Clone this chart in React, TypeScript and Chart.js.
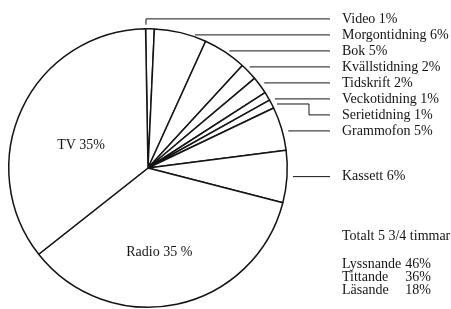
import React, { useEffect, useRef } from "react";
import { Chart, registerables } from "chart.js";

Chart.register(...registerables);

// ---- data ----
const categories = [
  "Video",
  "Morgontidning",
  "Bok",
  "Kvällstidning",
  "Tidskrift",
  "Veckotidning",
  "Serietidning",
  "Grammofon",
  "Kassett",
  "Radio",
  "TV",
];
const shares = [1, 6, 5, 2, 2, 1, 1, 5, 6, 35, 35];
const shareTexts = ["1%", "6%", "5%", "2%", "2%", "1%", "1%", "5%", "6%", "35 %", "35%"];
const insideCategories = ["Radio", "TV"];
const totalText = "Totalt 5 3/4 timmar";
const summaryCategories = ["Lyssnande", "Tittande", "Läsande"];
const summaryValues = [46, 36, 18];

const FONT = '14px "Liberation Serif", "Times New Roman", serif';
const INK = "#141414";

const labelPlugin = {
  id: "pieLabels",
  afterDatasetsDraw(chart: any) {
    const ctx = chart.ctx as CanvasRenderingContext2D;
    const meta = chart.getDatasetMeta(0);
    const arcs = meta.data as any[];
    ctx.save();
    ctx.font = FONT;
    ctx.fillStyle = INK;
    ctx.strokeStyle = INK;
    ctx.lineWidth = 1;
    ctx.textBaseline = "middle";

    const lineEnd = 330;
    const textX = 342;
    const gap = 16;
    const outside: any[] = [];

    arcs.forEach((arc: any, i: number) => {
      const p = arc.getProps(["x", "y", "startAngle", "endAngle", "outerRadius"], true);
      const mid = (p.startAngle + p.endAngle) / 2;
      const text = `${categories[i]} ${shareTexts[i]}`;
      if (insideCategories.includes(categories[i])) {
        const isTV = categories[i] === "TV";
        const f = isTV ? 0.5 : 0.6;
        const nx = isTV ? -4 : -6;
        const ny = isTV ? 7 : 3;
        ctx.textAlign = "center";
        ctx.fillText(
          text,
          p.x + Math.cos(mid) * p.outerRadius * f + nx,
          p.y + Math.sin(mid) * p.outerRadius * f + ny
        );
        return;
      }
      outside.push({
        i,
        text,
        cx: p.x,
        cy: p.y,
        r: p.outerRadius,
        mid,
        start: p.startAngle,
        end: p.endAngle,
        desired: p.y + Math.sin(mid) * p.outerRadius,
      });
    });

    // spread labels vertically
    outside.sort((a, b) => a.desired - b.desired);
    let groups = outside.map((o) => ({ items: [o], top: o.desired }));
    let merged = true;
    while (merged) {
      merged = false;
      for (let k = 0; k < groups.length - 1; k++) {
        const a = groups[k];
        const b = groups[k + 1];
        if (a.top + a.items.length * gap > b.top) {
          const items = a.items.concat(b.items);
          const mean = items.reduce((s, o) => s + o.desired, 0) / items.length;
          groups.splice(k, 2, { items, top: mean - ((items.length - 1) * gap) / 2 });
          merged = true;
          break;
        }
      }
    }
    groups.forEach((g) => g.items.forEach((o: any, j: number) => (o.ly = g.top + j * gap)));

    ctx.textAlign = "left";
    outside.forEach((o) => {
      const L = o.ly;
      const ys = o.cy + Math.sin(o.start) * o.r;
      const ye = o.cy + Math.sin(o.end) * o.r;
      let ymin = Math.min(ys, ye);
      let ymax = Math.max(ys, ye);
      if (o.start < -Math.PI / 2 && o.end > -Math.PI / 2) ymin = o.cy - o.r;
      ctx.beginPath();
      if (L >= ymin && L <= ymax) {
        const x0 = o.cx + Math.sqrt(Math.max(o.r * o.r - (L - o.cy) * (L - o.cy), 0)) + 6;
        ctx.moveTo(x0, L);
        ctx.lineTo(lineEnd, L);
      } else if (Math.abs(Math.cos(o.mid)) < 0.3) {
        const px = o.cx + Math.cos(o.mid) * o.r - 4;
        const py = o.cy + Math.sin(o.mid) * o.r - 4;
        ctx.moveTo(px, py);
        ctx.lineTo(px, L);
        ctx.lineTo(lineEnd, L);
      } else {
        const px = o.cx + Math.cos(o.mid) * (o.r + 6);
        const py = o.cy + Math.sin(o.mid) * o.r;
        ctx.moveTo(px, py);
        ctx.lineTo(309, py);
        ctx.lineTo(309, L);
        ctx.lineTo(lineEnd, L);
      }
      ctx.stroke();
      ctx.fillText(o.text, textX, L);
    });

    // summary block
    ctx.textAlign = "left";
    ctx.fillText(totalText, textX, 236);
    summaryCategories.forEach((c, k) => {
      const y = 264 + k * 13;
      ctx.textAlign = "left";
      ctx.fillText(c, textX, y);
      ctx.textAlign = "right";
      ctx.fillText(`${summaryValues[k]}%`, 431, y);
    });
    ctx.restore();
  },
};

export default function App() {
  const ref = useRef<HTMLCanvasElement | null>(null);
  useEffect(() => {
    if (!ref.current) return;
    const chart = new Chart(ref.current, {
      type: "pie",
      data: {
        labels: categories,
        datasets: [
          {
            data: shares,
            backgroundColor: "#ffffff",
            borderColor: INK,
            borderWidth: 1.5,
          },
        ],
      },
      options: {
        responsive: false,
        animation: false,
        rotation: -1,
        layout: { padding: { left: 8, top: 28, right: 163, bottom: 1 } },
        plugins: {
          legend: { display: false },
          tooltip: { enabled: false },
        },
        events: [],
      },
      plugins: [labelPlugin],
    });
    return () => chart.destroy();
  }, []);
  return (
    <div style={{ position: "fixed", left: 0, top: 0, width: 451, height: 309, background: "#fff" }}>
      <canvas ref={ref} width={451} height={309} style={{ display: "block" }} />
    </div>
  );
}
